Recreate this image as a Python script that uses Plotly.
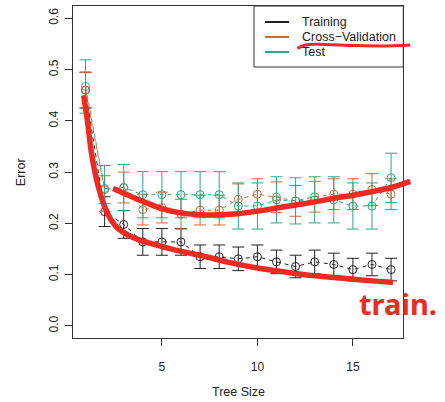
import plotly.graph_objects as go

# ---------------- data ----------------
tree_size = list(range(1, 18))

train_err = [0.460, 0.223, 0.198, 0.164, 0.164, 0.164, 0.135, 0.135, 0.131,
             0.135, 0.125, 0.116, 0.125, 0.120, 0.110, 0.120, 0.110]
train_se = [0.035, 0.029, 0.027, 0.026, 0.026, 0.026, 0.023, 0.023, 0.023,
            0.023, 0.023, 0.022, 0.023, 0.022, 0.022, 0.022, 0.022]

cv_err = [0.460, 0.266, 0.270, 0.227, 0.231, 0.218, 0.226, 0.226, 0.247,
          0.257, 0.251, 0.244, 0.252, 0.257, 0.257, 0.266, 0.257]
cv_se = [0.034, 0.027, 0.030, 0.030, 0.030, 0.029, 0.029, 0.029, 0.030,
         0.030, 0.030, 0.030, 0.030, 0.030, 0.030, 0.031, 0.030]

test_err = [0.467, 0.268, 0.270, 0.256, 0.256, 0.256, 0.256, 0.256, 0.234,
            0.234, 0.246, 0.244, 0.246, 0.246, 0.234, 0.234, 0.289]
test_se = [0.052, 0.045, 0.045, 0.045, 0.045, 0.045, 0.045, 0.045, 0.045,
           0.045, 0.045, 0.045, 0.045, 0.045, 0.045, 0.045, 0.048]

y_ticks = [0.0, 0.1, 0.2, 0.3, 0.4, 0.5, 0.6]
y_ticklabels = ["0.0", "0.1", "0.2", "0.3", "0.4", "0.5", "0.6"]
x_ticks = [5, 10, 15]

# hand-drawn red annotations (data units)
pen_train_x = [0.9, 1.1, 1.3, 1.55, 1.8, 2.05, 2.35, 2.7, 3.2, 3.8, 4.5, 5.3,
               6.2, 7.2, 8.5, 10.0, 11.5, 13.0, 14.5, 16.0, 17.1]
pen_train_y = [0.450, 0.400, 0.340, 0.290, 0.255, 0.228, 0.206, 0.190, 0.178,
               0.168, 0.160, 0.152, 0.144, 0.136, 0.124, 0.113, 0.105, 0.098,
               0.093, 0.088, 0.085]
pen_cv_x = [2.45, 3.0, 3.6, 4.2, 5.0, 5.9, 7.0, 8.0, 9.0, 10.0, 11.0, 12.0,
            13.0, 14.0, 15.0, 16.0, 17.0, 18.0]
pen_cv_y = [0.268, 0.259, 0.249, 0.240, 0.229, 0.221, 0.217, 0.217, 0.219,
            0.224, 0.230, 0.236, 0.242, 0.249, 0.255, 0.262, 0.270, 0.282]
pen_under_x = [12.1, 12.5, 13.5, 15.0, 16.5, 18.0]
pen_under_y = [0.541, 0.548, 0.549, 0.547, 0.546, 0.548]

series_names = ["Training", "Cross\u2212Validation", "Test"]
colors = ["#222222", "#D2692C", "#2FA688"]
RED = "#EE2B22"

# ---------------- geometry (page pixels) ----------------
W, H = 445, 402
L, R, T, B = 73.3, 403.3, 6.0, 338.3


def fx(p):
    return p / W


def fy(p):
    return 1 - p / H


xr = [0.36, 17.64]
yr = [-0.024, 0.624]
kx = (R - L) / (xr[1] - xr[0])
ky = (B - T) / (yr[1] - yr[0])
x2r = [xr[0] - L / kx, xr[1] + (W - R) / kx]
y2r = [yr[0] - (H - B) / ky, yr[1] + T / ky]

FONT = "Liberation Sans, Arial, Helvetica, sans-serif"

fig = go.Figure()

for name, ys, se, col in zip(series_names, [train_err, cv_err, test_err],
                             [train_se, cv_se, test_se], colors):
    fig.add_trace(go.Scatter(
        x=tree_size, y=ys, mode="lines+markers", name=name,
        line=dict(color=col, width=1, dash="4px,4px"),
        marker=dict(symbol="circle-open", size=8, color=col, line=dict(width=1, color=col)),
        error_y=dict(type="data", array=se, visible=True, color=col, thickness=1, width=6),
        cliponaxis=False,
    ))

# red pen overlay on a full-figure axis pair aligned to the data scale
for px_, py_, w in [(pen_train_x, pen_train_y, 5.5), (pen_cv_x, pen_cv_y, 5.5),
                    (pen_under_x, pen_under_y, 3)]:
    fig.add_trace(go.Scatter(
        x=px_, y=py_, mode="lines", showlegend=False, xaxis="x2", yaxis="y2",
        line=dict(color=RED, width=w, shape="spline"),
    ))

axis_common = dict(showgrid=False, zeroline=False, showline=True, mirror=True,
                   linecolor="#333333", linewidth=1, ticks="outside", ticklen=7,
                   tickcolor="#333333", tickfont=dict(family=FONT, size=12, color="#222"))

# manual R-style legend box
LX0, LX1, LY0, LY1 = 254.0, R, T, 67.0
shapes = [dict(type="rect", xref="paper", yref="paper", x0=fx(LX0), x1=fx(LX1),
               y0=fy(LY1), y1=fy(LY0), line=dict(color="#333333", width=1),
               fillcolor="rgba(0,0,0,0)", layer="below")]
annotations = []
for i, (name, col) in enumerate(zip(series_names, colors)):
    yy = fy(22 + 15 * i)
    shapes.append(dict(type="line", xref="paper", yref="paper", x0=fx(265), x1=fx(289),
                       y0=yy, y1=yy, line=dict(color=col, width=2)))
    annotations.append(dict(text=name, x=fx(300), y=yy, xref="paper", yref="paper",
                            xanchor="left", yanchor="middle", showarrow=False,
                            font=dict(family=FONT, size=12.5, color="#222")))

annotations += [
    dict(text="Tree Size", x=fx((L + R) / 2), y=fy(392), xref="paper", yref="paper",
         xanchor="center", yanchor="middle",
         showarrow=False, font=dict(family=FONT, size=12.5, color="#222")),
    dict(text="Error", x=fx(21), y=fy((T + B) / 2), xref="paper", yref="paper",
         xanchor="center", yanchor="middle",
         showarrow=False, textangle=-90, font=dict(family=FONT, size=12.5, color="#222")),
    dict(text="<b>train.</b>", x=fx(357), y=fy(303), xref="paper", yref="paper",
         xanchor="left", yanchor="middle", showarrow=False,
         font=dict(family="Noto Sans, sans-serif", size=29, color=RED)),
]

fig.update_layout(
    width=W, height=H, autosize=False, showlegend=False,
    margin=dict(l=0, r=0, t=0, b=0),
    paper_bgcolor="white", plot_bgcolor="rgba(0,0,0,0)",
    font=dict(family=FONT, size=12, color="#222"),
    xaxis=dict(domain=[fx(L), fx(R)], range=xr, tickvals=x_ticks,
               ticklabelstandoff=10, **axis_common),
    yaxis=dict(domain=[fy(B), fy(T)], range=yr, tickvals=y_ticks,
               ticktext=y_ticklabels, tickangle=-90, ticklabelstandoff=3, **axis_common),
    xaxis2=dict(domain=[0, 1], range=x2r, visible=False, anchor="y2"),
    yaxis2=dict(domain=[0, 1], range=y2r, visible=False, anchor="x2"),
    shapes=shapes,
    annotations=annotations,
)

fig.write_html(
    "out.html",
    config={"responsive": False, "displayModeBar": False},
    post_script="document.body.style.margin='0';document.body.style.overflow='hidden';",
)
